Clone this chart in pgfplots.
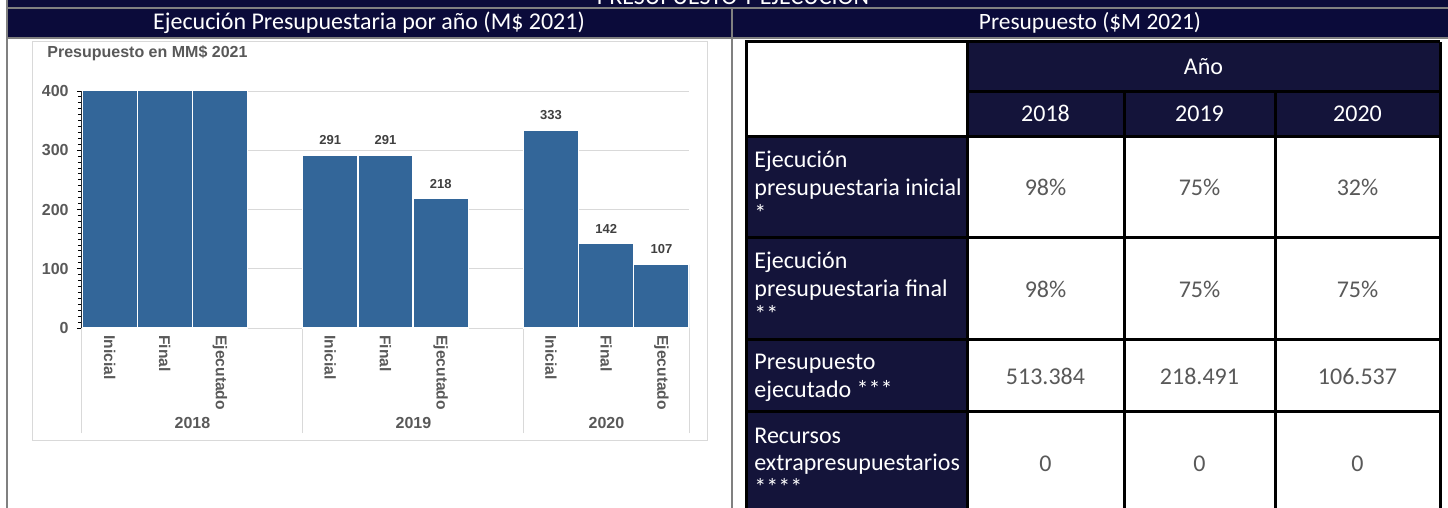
\documentclass[border=0pt]{standalone}
\usepackage{pgfplots}
\pgfplotsset{compat=1.18}
\usepackage{fontspec}
\setmainfont{Carlito}
\newfontfamily\arialf{Liberation Sans}
\definecolor{navy}{RGB}{11,11,58}
\definecolor{cellnavy}{RGB}{20,20,58}
\definecolor{barblue}{RGB}{51,102,153}
\definecolor{txtgray}{RGB}{89,89,89}
\definecolor{lblgray}{RGB}{64,64,64}
\definecolor{gridgray}{RGB}{217,217,217}
\definecolor{framegray}{RGB}{128,128,128}
\newcommand{\tf}{\fontsize{12}{14}\selectfont}
\newcommand{\cf}[1]{\arialf\bfseries\fontsize{#1}{#1}\selectfont}
\begin{document}
\begin{tikzpicture}[x=0.5pt,y=-0.5pt]
\clip (0,0) rectangle (1448,508);
\fill[white] (0,0) rectangle (1448,508);
% header bands
\fill[navy] (8,0) rectangle (1448,38);
\draw[framegray, line width=1pt] (7,8.5) -- (1448,8.5);
\draw[framegray, line width=1pt] (7,38.5) -- (1448,38.5);
\draw[framegray, line width=1pt] (7,0) -- (7,508);
\draw[framegray, line width=1pt] (732,9) -- (732,508);
\node[white, font=\tf, anchor=base, inner sep=0pt] at (733,5) {PRESUPUESTO Y EJECUCIÓN};
\node[white, font=\tf, anchor=base, inner sep=0pt] at (369,30) {Ejecución Presupuestaria por año (M\$ 2021)};
\node[white, font=\fontsize{11.7}{14}\selectfont, anchor=base, inner sep=0pt] at (1090,30) {Presupuesto (\$M 2021)};
% chart frame
\draw[gridgray, line width=0.5pt] (32.5,41.5) rectangle (707.5,440.5);
\node[anchor=base west, inner sep=0pt, font=\cf{8}, text=txtgray] at (47,58) {Presupuesto en MM\$ 2021};
\coordinate (O) at (82,328);
\begin{axis}[
  at={(O)}, anchor=south west,
  scale only axis, width=303.5pt, height=118.5pt,
  xmin=-0.5, xmax=10.5, ymin=0, ymax=400,
  ybar, bar width=1,
  clip mode=individual,
  /pgf/number format/assume math mode=true,
  axis x line*=bottom, axis y line*=left,
  x axis line style={gridgray, line width=0.5pt},
  y axis line style={black, line width=0.5pt},
  xtick={0,1,2,4,5,6,8,9,10},
  xticklabels={Inicial,Final,Ejecutado,Inicial,Final,Ejecutado,Inicial,Final,Ejecutado},
  xticklabel style={rotate=-90, anchor=west, inner sep=0pt, font=\cf{7.8}, text=txtgray, xshift=1pt},
  major x tick style={draw=none},
  extra x ticks={-0.5,3.5,7.5,10.5},
  extra x tick labels={},
  extra x tick style={major tick length=52.5pt, tick align=outside, major x tick style={draw=gridgray, line width=0.5pt}},
  ytick={0,100,200,300,400},
  minor y tick num=9,
  ymajorgrids, grid style={gridgray, line width=0.5pt},
  y tick style={black, line width=0.5pt},
  tick align=outside,
  major tick length=2.5pt, minor tick length=2pt,
  yticklabel style={font=\cf{8}, text=txtgray, inner sep=0pt, xshift=-4pt},
  every node near coord/.append style={font=\cf{6.5}, text=lblgray, inner sep=0pt, anchor=south, yshift=5pt},
]
\addplot[ybar, bar shift=0pt, fill=barblue, draw=white, line width=0.6pt] coordinates {(0,524) (1,524) (2,513)};
\addplot[ybar, bar shift=0pt, fill=barblue, draw=white, line width=0.6pt, nodes near coords] coordinates {(4,291) (5,291) (6,218) (8,333) (9,142) (10,107)};
\end{axis}
\node[font=\cf{8}, text=txtgray, anchor=base] at (192.5,429) {2018};
\node[font=\cf{8}, text=txtgray, anchor=base] at (413.5,429) {2019};
\node[font=\cf{8}, text=txtgray, anchor=base] at (606.5,429) {2020};
% table
\fill[cellnavy] (746,137) rectangle (967,520);
\fill[cellnavy] (967,42) rectangle (1440,137);
\begin{scope}[line width=1.5pt, black]
\draw (746,42) rectangle (967,137);
\draw (967,42) -- (1440,42);
\draw (967,92) -- (1440,92);
\foreach \yy in {137,238,339,411} {\draw (746,\yy) -- (1440,\yy);}
\draw (746,42) -- (746,520);
\draw (967,42) -- (967,520);
\draw (1124,92) -- (1124,520);
\draw (1275,92) -- (1275,520);
\draw (1440,42) -- (1440,520);
\end{scope}
\node[white, font=\tf, anchor=base, inner sep=0pt] at (1203.5,75) {Año};
\node[white, font=\tf, anchor=base, inner sep=0pt] at (1045.5,122) {2018};
\node[white, font=\tf, anchor=base, inner sep=0pt] at (1199.5,122) {2019};
\node[white, font=\tf, anchor=base, inner sep=0pt] at (1357.5,122) {2020};
\begin{scope}[every node/.style={white, font=\tf, anchor=base west, inner sep=0pt}]
\node at (754,168) {Ejecución};
\node at (754,196) {presupuestaria inicial};
\node at (754,221) {*};
\node at (754,269) {Ejecución};
\node at (754,297) {presupuestaria final};
\node at (754,322) {**};
\node at (754,370) {Presupuesto};
\node at (754,397) {ejecutado ***};
\node at (754,443) {Recursos};
\node at (754,470) {extrapresupuestarios};
\node at (754,495) {****};
\end{scope}
\begin{scope}[every node/.style={text=txtgray, font=\tf, anchor=base, inner sep=0pt}]
\node at (1045.5,196) {98\%};
\node at (1199.5,196) {75\%};
\node at (1357.5,196) {32\%};
\node at (1045.5,298) {98\%};
\node at (1199.5,298) {75\%};
\node at (1357.5,298) {75\%};
\node at (1045.5,385) {513.384};
\node at (1199.5,385) {218.491};
\node at (1357.5,385) {106.537};
\node at (1045.5,471) {0};
\node at (1199.5,471) {0};
\node at (1357.5,471) {0};
\end{scope}
\end{tikzpicture}
\end{document}
